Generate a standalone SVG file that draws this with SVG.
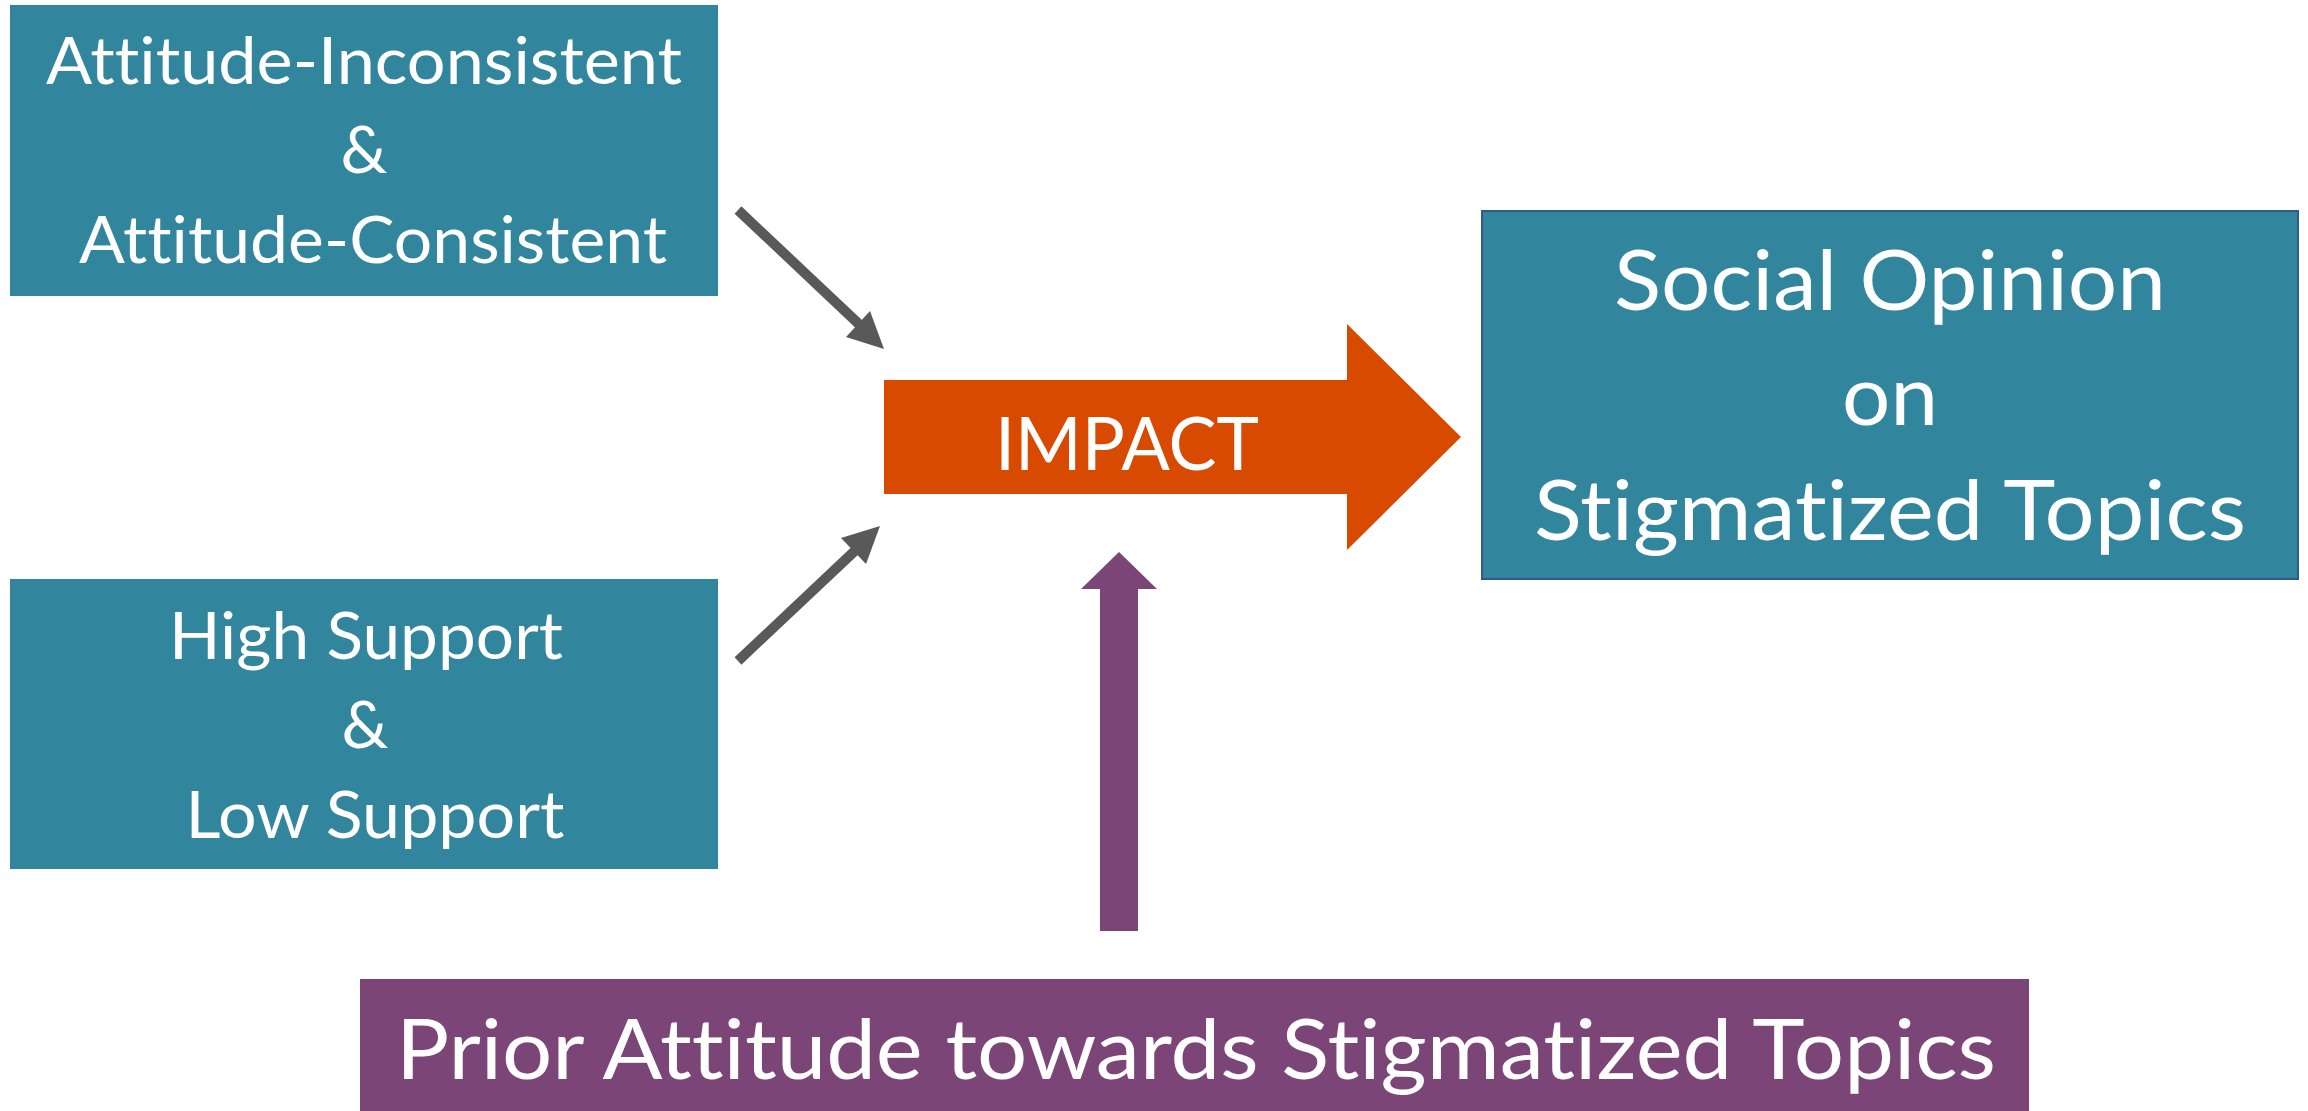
<svg xmlns="http://www.w3.org/2000/svg" width="2308" height="1111" viewBox="0 0 2308 1111">
  <style>
    .box { fill: #31859C; }
    .lbl { fill: #FFFFFF; font-family: Lato, "Open Sans", "Liberation Sans", sans-serif; text-anchor: middle; font-variant-ligatures: none; font-feature-settings: "liga" 0, "dlig" 0; }
    .s66 { font-size: 66px; }
    .s84 { font-size: 84px; }
    .s74 { font-size: 74px; }
    .link { stroke: #595959; stroke-width: 10; fill: none; }
    .head { fill: #595959; }
  </style>
  <rect width="2308" height="1111" fill="#FFFFFF"/>

  <g id="node-attitude">
    <rect class="box" x="10" y="5" width="708" height="291"/>
    <text class="lbl s66" x="364" y="84" textLength="636" lengthAdjust="spacingAndGlyphs">Attitude-Inconsistent</text>
    <text class="lbl s66" x="364" y="173">&amp;</text>
    <text class="lbl s66" x="373" y="263" textLength="588" lengthAdjust="spacingAndGlyphs">Attitude-Consistent</text>
  </g>

  <g id="node-support">
    <rect class="box" x="10" y="579" width="708" height="290"/>
    <text class="lbl s66" x="366" y="659" textLength="394" lengthAdjust="spacingAndGlyphs">High Support</text>
    <text class="lbl s66" x="365" y="748">&amp;</text>
    <text class="lbl s66" x="375" y="838" textLength="379" lengthAdjust="spacingAndGlyphs">Low Support</text>
  </g>

  <g id="node-impact">
    <polygon fill="#D84A00" points="884,380 1347,380 1347,324 1461,437 1347,550 1347,494 884,494"/>
    <text class="lbl s74" x="1127" y="470" textLength="264" lengthAdjust="spacingAndGlyphs">IMPACT</text>
  </g>

  <g id="node-opinion">
    <rect class="box" x="1482" y="211" width="816" height="368" stroke="#2F5A8C" stroke-width="2"/>
    <text class="lbl s84" x="1890" y="310" textLength="552" lengthAdjust="spacingAndGlyphs">Social Opinion</text>
    <text class="lbl s84" x="1890" y="425" textLength="96" lengthAdjust="spacingAndGlyphs">on</text>
    <text class="lbl s84" x="1890" y="540" textLength="712" lengthAdjust="spacingAndGlyphs">Stigmatized Topics</text>
  </g>

  <g id="node-prior">
    <rect x="360" y="979" width="1669" height="132" fill="#7B4578"/>
    <text class="lbl s84" x="1196" y="1079" textLength="1600" lengthAdjust="spacingAndGlyphs">Prior Attitude towards Stigmatized Topics</text>
  </g>

  <g id="connectors">
    <!-- upper input into IMPACT -->
    <line class="link" x1="738" y1="210" x2="862" y2="327"/>
    <polygon class="head" points="884,349 870,311 846,337"/>
    <!-- lower input into IMPACT -->
    <line class="link" x1="738" y1="661" x2="860" y2="546"/>
    <polygon class="head" points="880,526 841,538 866,564"/>
    <!-- moderator arrow from prior attitude -->
    <polygon fill="#7B4578" points="1100,931 1138,931 1138,589 1157,589 1119,552 1081,589 1100,589"/>
  </g>
</svg>
